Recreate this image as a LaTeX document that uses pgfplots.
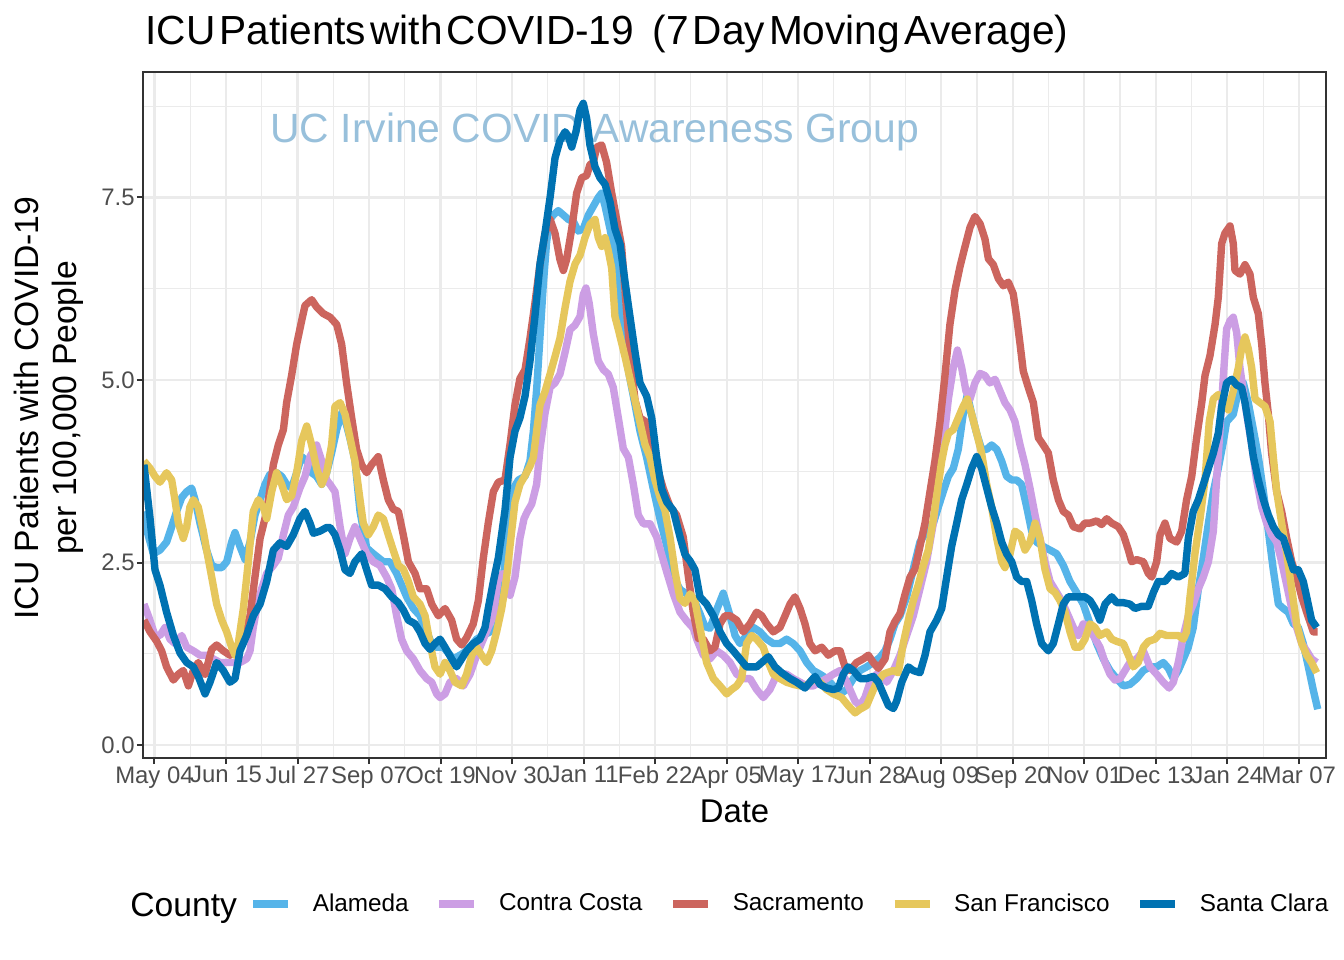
\documentclass[border=0pt]{standalone}
\usepackage{fontspec}
\setmainfont{Liberation Sans}
\usepackage{pgfplots}
\pgfplotsset{compat=1.18}
\definecolor{ala}{RGB}{86,180,233}
\definecolor{cc}{RGB}{204,158,228}
\definecolor{sac}{RGB}{204,101,94}
\definecolor{sf}{RGB}{230,199,92}
\definecolor{sc}{RGB}{0,114,178}
\definecolor{grey20}{RGB}{51,51,51}
\definecolor{grey30}{RGB}{77,77,77}
\definecolor{grey92}{RGB}{235,235,235}
\definecolor{wm}{RGB}{152,192,219}
\begin{document}
\begin{tikzpicture}
\useasboundingbox (-71.5bp,-101bp) rectangle (600.5bp,379bp);
\begin{axis}[
  name=ax, at={(0,0)}, anchor=south west,
  scale only axis, width=591.5bp, height=343bp,
  xmin=-6.75, xmax=687.96, ymin=-0.178, ymax=9.219,
  xtick={0,42,...,672},
  xticklabels={May 04,Jun 15,Jul 27,Sep 07,Oct 19,Nov 30,Jan 11,Feb 22,Apr 05,May 17,Jun 28,Aug 09,Sep 20,Nov 01,Dec 13,Jan 24,Mar 07},
  minor xtick={21,63,...,651},
  ytick={0,2.5,5,7.5}, yticklabels={0.0,2.5,5.0,7.5},
  minor ytick={1.25,3.75,6.25,8.75},
  grid=both,
  major grid style={grey92, line width=1.1bp},
  minor grid style={grey92, line width=0.55bp},
  axis line style={grey20, line width=1bp},
  tick align=outside, tick pos=left,
  major tick length=3bp, minor tick length=0pt,
  tick style={grey20, line width=1bp},
  ticklabel style={font=\fontsize{12}{14}\selectfont, text=grey30},
  xticklabel style={inner sep=0pt, anchor=north, yshift=-1bp},
  yticklabel style={inner sep=0pt, anchor=east, xshift=-1bp},
  /pgf/number format/assume math mode=true,
  line join=round,
  legend style={at={(axis description cs:0.0896,-0.2128)}, anchor=west,
    draw=none, fill=none, inner sep=0pt, legend columns=-1,
    font=\fontsize{12.2}{14}\selectfont,
    nodes={inner sep=0pt},
    /tikz/every odd column/.append style={column sep=10.5bp},
    /tikz/every even column/.append style={column sep=13.5bp}},
  legend image code/.code={\draw (0bp,0bp) -- (17.5bp,0bp);},
  every axis plot/.append style={line width=3.7bp},
]
\node[anchor=base west, inner sep=0pt, text=wm, font=\fontsize{20.5}{24}\selectfont] at (axis cs:67.8,8.25) {UC Irvine COVID Awareness Group};

\addplot[ala] table {
d v
-6.2 3.20
-4.6 2.95
-0.7 2.62
3.2 2.67
7.1 2.78
10.1 2.99
13.0 3.20
16.0 3.39
18.9 3.47
21.8 3.52
23.8 3.36
26.7 3.04
30.6 2.67
33.6 2.46
36.5 2.43
39.5 2.43
42.4 2.51
45.3 2.78
47.3 2.91
50.2 2.72
53.2 2.54
56.1 2.78
59.0 3.15
62.0 3.36
64.9 3.57
67.8 3.71
71.7 3.73
74.7 3.68
77.6 3.57
80.5 3.52
83.5 3.73
86.4 3.95
89.4 3.89
92.3 3.73
95.2 3.68
98.2 3.57
101.1 3.73
104.0 4.00
107.0 4.32
110.0 4.55
112.0 4.45
114.8 4.20
117.7 3.90
120.7 3.20
124.6 2.70
128.5 2.62
134.4 2.51
138.3 2.51
142.2 2.35
148.1 2.03
152.0 1.87
155.9 1.77
159.8 1.55
163.7 1.34
169.6 1.34
175.5 1.18
179.4 1.23
183.3 1.29
189.2 1.45
193.1 1.50
197.0 1.55
200.9 1.61
203.9 1.98
206.8 2.83
209.7 3.47
213.7 3.63
217.6 3.68
220.5 3.89
222.5 4.30
224.5 4.90
226.4 5.60
228.3 6.30
230.3 6.90
232.3 7.20
234.2 7.26
237.1 7.32
240.1 7.26
243.0 7.20
246.0 7.17
248.9 7.04
251.8 7.07
254.8 7.26
257.7 7.38
260.6 7.50
262.6 7.56
264.6 7.38
267.5 7.07
270.4 6.71
273.4 5.87
276.3 5.38
279.2 5.02
282.2 4.66
285.1 4.30
289.0 3.94
292.9 3.51
296.9 3.09
300.8 2.73
304.7 2.31
308.6 2.13
312.5 2.07
316.4 2.01
320.3 1.80
323.3 1.62
326.2 1.60
330.1 1.85
334.0 2.08
338.0 1.77
340.9 1.50
343.8 1.39
347.7 1.50
351.7 1.61
355.6 1.55
359.5 1.45
363.4 1.39
367.3 1.39
371.2 1.45
375.1 1.39
379.1 1.29
383.0 1.13
386.9 1.02
390.8 0.97
394.7 0.91
398.6 0.81
402.6 0.70
406.5 0.76
410.4 0.91
414.3 1.02
418.2 1.07
422.1 1.13
426.0 1.20
429.0 1.29
431.9 1.45
434.8 1.66
437.8 1.77
441.7 2.03
445.6 2.41
449.5 2.78
453.4 2.93
457.4 3.04
460.3 3.26
463.2 3.47
466.2 3.68
469.1 3.79
472.0 4.05
474.9 4.53
477.3 4.80
479.9 4.53
482.8 4.27
485.7 4.05
488.7 4.05
491.6 4.11
494.6 4.05
497.5 3.89
500.4 3.68
503.4 3.63
506.3 3.63
509.2 3.57
512.2 3.26
515.1 2.93
518.0 2.78
521.9 2.72
525.9 2.67
529.8 2.62
533.7 2.46
537.6 2.24
541.5 2.09
545.4 1.93
549.4 1.66
553.3 1.39
557.2 1.18
561.1 1.02
565.0 0.91
569.0 0.81
572.8 0.83
576.8 0.91
580.7 1.02
584.6 1.07
588.5 1.07
592.4 1.13
595.4 1.05
598.3 0.91
601.2 1.02
604.2 1.18
607.1 1.34
610.0 1.61
613.0 2.14
615.9 2.56
618.9 3.04
621.8 3.47
624.7 3.79
627.7 4.16
629.6 4.43
631.6 4.48
633.5 4.53
636.5 4.85
639.4 4.96
642.3 4.69
645.3 4.32
648.2 3.95
651.2 3.47
654.1 2.93
657.0 2.40
660.0 1.93
662.9 1.87
665.8 1.82
668.8 1.66
671.7 1.61
674.6 1.39
677.6 1.07
680.5 0.75
683.1 0.49
};
\addlegendentry{Alameda}

\addplot[cc] table {
d v
-6.2 1.93
-3.6 1.77
0.3 1.50
3.2 1.50
6.2 1.61
9.1 1.45
12.0 1.39
16.0 1.50
18.9 1.34
22.8 1.29
26.7 1.23
30.6 1.23
34.5 1.18
38.5 1.13
44.0 1.13
50.2 1.13
54.1 1.18
56.1 1.29
58.0 1.61
60.0 1.87
62.9 2.14
65.9 2.35
69.8 2.46
72.7 2.56
75.7 2.88
78.6 3.15
81.5 3.26
85.4 3.52
88.4 3.68
91.3 3.95
95.2 4.11
98.2 3.89
101.1 3.63
103.1 3.57
106.0 3.47
109.0 2.99
111.9 2.62
114.8 2.83
117.7 2.99
120.7 2.83
124.6 2.62
128.5 2.51
132.4 2.46
136.3 2.30
139.3 2.14
142.2 1.77
145.1 1.45
148.1 1.29
152.0 1.18
155.9 1.02
159.8 0.91
162.8 0.86
165.7 0.70
167.7 0.65
170.6 0.70
173.5 0.86
177.4 0.91
181.4 0.81
185.3 0.97
189.2 1.23
193.1 1.45
196.0 1.61
199.0 1.77
201.9 2.30
204.8 2.35
208.8 2.05
211.7 2.30
214.6 2.83
217.0 3.10
219.0 3.20
221.5 3.30
224.4 3.57
226.4 4.06
229.3 4.54
232.3 4.90
235.2 4.96
238.1 5.08
241.1 5.38
244.0 5.69
246.9 5.75
249.9 5.87
251.8 6.17
253.4 6.26
255.3 6.05
257.7 5.63
260.6 5.26
263.6 5.14
266.5 5.08
269.4 4.90
272.4 4.48
275.3 4.06
278.3 3.94
281.2 3.57
284.1 3.15
287.1 3.03
291.0 3.03
294.9 2.85
297.8 2.61
300.8 2.37
304.7 2.07
308.6 1.82
312.5 1.70
316.4 1.60
318.4 1.45
322.3 1.23
326.2 1.18
330.1 1.29
334.0 1.23
338.0 1.13
341.9 0.97
345.8 0.91
349.7 0.91
353.6 0.76
357.5 0.65
361.4 0.76
364.4 0.91
367.3 0.97
371.2 0.97
375.1 0.91
379.1 0.86
383.0 0.81
386.9 0.81
390.8 0.86
394.7 0.91
398.6 0.97
402.6 1.02
405.5 0.91
408.4 0.76
411.4 0.60
414.3 0.54
417.2 0.65
420.2 0.86
424.1 0.97
428.0 0.95
430.0 0.86
433.9 1.02
437.8 1.23
441.7 1.50
445.6 1.77
449.5 2.14
453.4 2.51
457.4 3.04
460.3 3.63
463.2 4.11
466.2 4.74
469.1 5.17
471.5 5.41
474.0 5.17
476.5 4.85
478.9 4.74
481.8 4.96
484.8 5.09
487.7 5.06
490.6 4.96
493.6 5.01
496.5 4.85
499.4 4.69
502.4 4.59
505.3 4.43
508.3 4.11
511.2 3.84
514.1 3.52
517.1 3.15
520.0 2.83
522.9 2.51
525.9 2.24
529.8 2.09
532.7 1.98
535.7 1.82
539.6 1.61
542.5 1.50
545.4 1.66
548.4 1.63
551.3 1.50
555.2 1.34
558.2 1.13
561.1 0.97
564.0 0.89
567.0 0.91
569.9 1.02
572.8 1.13
576.8 1.18
580.7 1.29
584.6 1.07
588.5 0.97
592.4 0.86
595.8 0.78
598.3 0.86
601.2 1.13
604.2 1.50
607.1 1.77
610.0 1.93
613.0 2.14
615.9 2.30
618.9 2.51
621.8 2.93
623.7 3.63
625.7 4.32
627.7 5.06
629.6 5.70
631.6 5.81
633.5 5.86
635.5 5.65
637.4 5.17
639.4 4.85
641.4 4.53
644.3 4.11
647.2 3.63
650.2 3.26
653.1 3.04
656.0 2.88
659.0 2.78
661.9 2.51
664.9 2.19
667.8 1.87
670.7 1.61
673.7 1.39
676.6 1.29
679.5 1.18
682.5 1.13
};
\addlegendentry{Contra Costa}

\addplot[sac] table {
d v
-6.2 1.71
-2.6 1.55
1.3 1.42
4.2 1.29
7.1 1.07
11.1 0.89
14.0 0.97
16.9 1.02
19.9 0.81
22.8 1.02
25.7 1.13
29.7 0.97
33.6 1.31
36.5 1.37
40.4 1.29
44.3 1.23
48.2 1.29
52.2 1.45
56.1 1.77
59.0 2.30
62.0 2.83
65.9 3.20
69.8 3.84
72.7 4.11
75.7 4.32
77.6 4.69
80.5 5.06
83.5 5.49
86.4 5.81
88.4 6.02
92.3 6.10
95.2 6.00
99.1 5.91
103.1 5.86
107.0 5.76
109.9 5.49
112.8 4.96
115.8 4.48
118.7 4.05
121.6 3.84
124.6 3.73
127.5 3.84
131.4 3.95
134.4 3.63
137.3 3.36
140.2 3.23
143.2 3.20
146.1 2.88
149.1 2.51
153.0 2.35
155.9 2.14
159.8 2.14
162.8 1.93
166.7 1.77
170.6 1.87
174.5 1.71
177.4 1.45
180.4 1.37
183.3 1.47
187.2 1.66
190.2 1.98
193.1 2.56
196.0 3.04
199.0 3.47
201.9 3.60
205.8 3.63
208.8 4.12
211.7 4.66
214.6 5.02
217.6 5.14
220.5 5.57
223.4 6.05
226.4 6.59
229.3 7.01
232.3 7.20
235.2 7.01
238.1 6.65
240.1 6.50
242.0 6.65
245.0 7.07
247.9 7.56
250.9 7.77
253.8 7.80
255.7 7.95
257.7 7.98
259.7 8.19
262.6 8.22
265.5 7.98
268.5 7.56
271.4 7.20
274.3 6.83
276.3 6.23
278.3 5.63
280.2 5.14
282.2 4.72
285.1 4.48
289.0 4.42
292.0 4.12
294.9 3.82
298.8 3.51
302.7 3.27
306.6 3.15
310.5 2.85
313.5 2.31
316.4 1.82
319.4 1.46
322.3 1.45
326.2 1.29
329.1 1.34
332.1 1.66
335.0 1.77
338.0 1.77
341.9 1.71
345.8 1.55
349.7 1.66
353.6 1.82
356.6 1.77
359.5 1.66
363.4 1.55
367.3 1.61
370.3 1.77
373.2 1.93
376.1 2.03
379.1 1.87
382.0 1.66
384.9 1.39
387.9 1.29
391.8 1.34
395.7 1.23
399.6 1.29
402.6 1.29
405.5 1.07
408.4 1.02
412.3 1.13
416.3 1.18
419.2 1.23
422.1 1.13
425.1 1.05
429.0 1.18
431.9 1.55
434.8 1.69
437.8 1.80
440.7 2.06
443.7 2.30
446.6 2.41
449.5 2.72
452.5 3.04
455.4 3.47
458.3 3.89
461.3 4.43
464.2 5.06
467.1 5.76
470.1 6.23
473.0 6.55
475.9 6.82
478.9 7.09
481.8 7.24
484.8 7.14
487.7 6.93
489.7 6.66
492.6 6.58
495.5 6.39
498.5 6.29
501.4 6.34
504.3 6.18
506.3 5.86
508.3 5.49
510.2 5.12
513.1 4.90
516.1 4.69
519.0 4.21
521.9 4.11
524.9 4.00
527.8 3.63
530.8 3.36
533.7 3.20
536.6 3.15
539.6 2.99
543.5 2.96
546.4 3.04
549.4 3.04
553.3 3.07
556.2 3.02
559.2 3.10
562.1 3.04
566.0 2.99
569.0 2.88
571.9 2.67
573.8 2.51
576.8 2.54
580.7 2.51
583.6 2.35
585.6 2.30
588.5 2.51
590.5 2.88
593.4 3.04
596.3 2.83
600.3 2.78
603.2 2.93
606.1 3.36
609.1 3.68
612.0 4.21
615.0 4.69
616.9 5.06
619.8 5.33
622.8 5.76
624.7 6.13
626.7 6.87
628.6 7.01
631.6 7.11
633.5 6.87
634.5 6.50
637.4 6.45
640.4 6.58
643.3 6.45
645.3 6.13
648.2 5.91
650.2 5.49
652.1 4.96
654.1 4.53
656.0 4.00
659.0 3.47
661.9 3.20
664.9 2.83
667.8 2.51
670.7 2.30
673.7 2.03
676.6 1.82
680.5 1.55
683.1 1.55
};
\addlegendentry{Sacramento}

\addplot[sf] table {
d v
-6.2 3.89
-2.6 3.79
0.3 3.68
3.2 3.60
7.1 3.73
10.1 3.63
12.0 3.36
14.0 3.04
16.9 2.83
18.9 2.99
20.8 3.26
22.8 3.36
25.7 3.26
28.7 2.93
30.6 2.67
33.6 2.30
36.5 1.93
39.5 1.71
42.4 1.55
45.3 1.34
47.3 1.23
49.2 1.39
52.2 1.87
55.1 2.51
58.0 3.20
61.0 3.36
63.9 3.26
65.9 3.10
68.8 3.47
71.7 3.73
74.7 3.57
77.6 3.36
80.5 3.41
83.5 3.73
86.4 4.16
89.4 4.37
92.3 4.11
95.2 3.79
98.2 3.57
101.1 3.73
104.0 4.11
106.0 4.64
109.0 4.69
111.9 4.53
114.8 4.21
117.7 3.89
120.7 3.36
122.6 3.04
125.6 2.88
128.5 2.99
131.4 3.15
134.4 3.10
137.3 2.88
140.2 2.67
143.2 2.46
146.1 2.41
149.1 2.24
152.0 2.03
155.9 1.93
158.9 1.77
161.8 1.39
164.7 1.07
167.7 0.97
170.6 1.13
173.5 1.02
176.5 0.86
180.4 0.81
183.3 0.97
186.3 1.23
189.2 1.34
192.1 1.23
195.1 1.13
198.0 1.29
200.9 1.55
203.9 1.87
206.8 2.30
208.8 2.73
211.7 3.33
214.6 3.57
217.6 3.69
220.5 3.82
222.5 3.94
224.4 4.30
226.4 4.66
229.3 4.84
232.3 5.08
235.2 5.32
238.1 5.57
241.1 5.99
244.0 6.35
247.0 6.59
249.9 6.71
252.8 6.95
255.7 7.13
258.7 7.20
260.6 6.95
262.6 6.83
264.6 6.95
266.5 6.77
268.5 6.53
270.4 5.87
272.4 5.69
274.3 5.51
276.3 5.32
279.2 5.02
282.2 4.72
285.1 4.42
288.0 4.12
291.0 3.94
293.9 3.63
296.9 3.39
299.8 3.21
302.7 2.85
305.7 2.37
308.6 2.01
311.5 1.94
314.5 2.07
317.4 1.97
320.3 1.61
324.2 1.13
328.2 0.91
332.1 0.81
336.0 0.70
338.9 0.76
341.9 0.81
344.8 0.91
347.7 1.39
350.7 1.50
353.6 1.45
357.5 1.34
360.5 1.13
363.4 0.97
367.3 0.91
371.2 0.86
375.1 0.83
379.1 0.81
383.0 0.81
386.9 0.91
390.8 0.86
394.7 0.76
398.6 0.70
403.5 0.65
407.4 0.54
411.4 0.44
414.3 0.49
418.2 0.54
421.1 0.70
424.1 0.86
428.0 0.97
430.0 0.99
433.9 1.02
436.8 0.99
439.7 1.39
442.7 1.71
445.6 1.98
448.5 2.19
451.5 2.46
454.4 2.67
457.4 3.10
460.3 3.57
462.3 3.89
464.2 4.11
466.2 4.27
469.1 4.32
472.0 4.48
474.9 4.64
477.3 4.74
479.9 4.53
482.8 4.27
485.7 4.00
488.7 3.57
491.6 3.26
494.6 2.83
497.5 2.51
499.4 2.43
502.4 2.62
505.3 2.93
508.3 2.88
511.2 2.67
514.1 2.78
517.1 3.04
520.0 2.83
522.9 2.41
525.9 2.14
528.8 2.09
531.7 1.98
534.7 1.82
537.6 1.55
540.5 1.34
543.5 1.34
546.4 1.45
549.4 1.66
552.3 1.61
555.2 1.50
559.2 1.55
562.1 1.45
565.0 1.42
569.0 1.39
571.9 1.23
574.8 1.07
577.7 1.13
580.7 1.34
583.6 1.42
587.5 1.45
590.5 1.53
594.4 1.50
598.3 1.50
601.2 1.50
604.2 1.45
606.1 1.55
608.1 2.03
611.0 2.62
614.0 3.10
616.9 3.63
619.4 4.43
621.8 4.74
624.7 4.80
627.7 4.74
630.6 4.59
633.5 4.85
636.5 5.17
638.4 5.43
640.4 5.59
642.3 5.43
644.3 5.17
646.3 4.74
649.2 4.69
652.1 4.64
655.1 4.43
657.0 3.95
659.0 3.47
661.9 3.04
664.9 2.62
667.8 2.14
670.7 1.66
673.7 1.39
676.6 1.23
679.5 1.13
682.5 0.99
};
\addlegendentry{San Francisco}

\addplot[sc] table {
d v
-6.2 3.84
-2.6 3.10
0.3 2.40
3.2 2.19
7.1 1.82
11.1 1.50
15.0 1.26
18.9 1.13
22.8 1.07
25.7 0.94
29.7 0.70
32.6 0.86
36.5 1.13
40.4 1.02
44.3 0.86
47.3 0.91
50.2 1.29
54.1 1.50
58.0 1.77
62.0 1.93
65.9 2.24
69.8 2.67
73.7 2.77
77.6 2.72
81.5 2.88
85.4 3.10
88.4 3.20
91.3 3.04
93.3 2.90
97.2 2.93
101.1 2.98
103.1 2.98
106.0 2.88
109.0 2.67
111.9 2.40
114.8 2.35
117.7 2.51
121.7 2.62
124.6 2.40
127.5 2.19
131.4 2.19
135.4 2.14
139.3 2.03
143.2 1.95
146.1 1.85
149.1 1.71
153.0 1.66
155.9 1.55
158.9 1.39
161.8 1.31
164.7 1.39
167.7 1.45
170.6 1.34
174.5 1.18
177.4 1.07
180.4 1.18
183.3 1.29
187.2 1.39
191.1 1.45
194.1 1.61
196.0 1.87
199.0 2.24
201.9 2.56
205.8 3.21
208.8 3.94
211.7 4.30
214.6 4.48
217.6 4.78
220.5 5.26
223.4 5.87
226.4 6.59
229.3 7.01
232.3 7.50
235.2 8.04
238.1 8.28
241.1 8.40
243.0 8.34
245.0 8.19
247.5 8.40
249.9 8.70
251.8 8.79
253.8 8.58
255.7 8.22
258.7 7.92
261.6 7.77
264.6 7.68
267.5 7.44
270.4 7.07
273.4 6.86
276.3 6.35
279.2 5.87
282.2 5.38
285.1 4.96
289.0 4.78
292.0 4.48
294.9 3.94
297.8 3.51
300.8 3.33
304.7 3.21
308.6 2.85
311.5 2.61
314.5 2.52
317.4 2.40
320.3 2.03
324.2 1.93
328.2 1.77
332.1 1.55
336.0 1.39
339.9 1.29
343.8 1.18
347.7 1.07
353.6 1.07
356.6 1.13
360.5 1.21
364.4 1.07
368.3 0.99
373.2 0.91
377.1 0.86
382.0 0.78
384.9 0.86
387.9 0.94
390.8 0.83
394.7 0.78
398.6 0.76
401.6 0.78
404.5 0.97
407.4 1.07
410.4 1.02
414.3 0.91
418.2 0.91
422.1 0.94
425.1 0.86
428.0 0.70
431.0 0.54
433.9 0.50
435.8 0.60
438.8 0.86
442.7 1.07
445.6 1.02
449.5 0.99
452.5 1.23
455.4 1.55
459.3 1.71
462.3 1.87
465.2 2.30
468.1 2.72
471.1 3.04
474.0 3.36
477.0 3.57
479.9 3.79
482.8 3.95
485.7 3.79
488.7 3.52
491.6 3.26
494.6 3.04
497.5 2.78
500.4 2.62
503.4 2.51
506.3 2.30
509.2 2.24
512.2 2.24
515.1 1.98
518.0 1.66
521.0 1.39
524.9 1.29
527.8 1.39
530.8 1.66
533.7 1.93
536.6 2.03
539.6 2.03
543.5 2.03
546.4 2.03
549.4 1.98
552.3 1.87
555.2 1.71
558.2 1.93
562.1 2.03
565.0 1.95
569.0 1.95
572.8 1.93
575.8 1.87
579.7 1.90
583.6 1.90
586.6 2.09
589.5 2.24
593.4 2.24
597.3 2.35
601.2 2.30
605.1 2.35
607.1 2.83
610.0 3.20
613.0 3.36
615.9 3.57
618.9 3.79
621.8 4.00
624.7 4.27
626.7 4.64
629.6 4.96
632.6 5.01
635.5 4.93
638.4 4.90
640.4 4.69
643.0 4.32
645.3 3.95
648.2 3.63
651.2 3.36
654.1 3.15
657.0 2.99
660.0 2.88
662.9 2.83
665.8 2.62
668.8 2.40
671.7 2.40
674.6 2.24
676.6 2.03
679.5 1.71
682.5 1.61
};
\addlegendentry{Santa Clara}
\end{axis}
\draw[grey20, line width=1bp] (ax.south west) rectangle (ax.north east);
\node[anchor=base west, inner sep=0pt, font=\fontsize{20.4}{24}\selectfont]
  at ([xshift=1bp, yshift=13.5bp]ax.north west)
  {\spaceskip=0.1em\relax ICU Patients with COVID-19\hspace{0.35em} (7 Day Moving Average)};
\node[anchor=base, inner sep=0pt, font=\fontsize{16.5}{19}\selectfont]
  at ([yshift=-32bp]ax.south) {Date};
\node[rotate=90, anchor=center, align=center, inner sep=0pt, font=\fontsize{16.9}{19}\selectfont]
  at ([xshift=-47bp, yshift=3.5bp]ax.west) {ICU Patients with COVID-19\\per 100,000 People};
\node[anchor=base west, inner sep=0pt, font=\fontsize{16.9}{19}\selectfont]
  at ([xshift=-6.5bp, yshift=-79bp]ax.south west) {County};
\end{tikzpicture}
\end{document}
